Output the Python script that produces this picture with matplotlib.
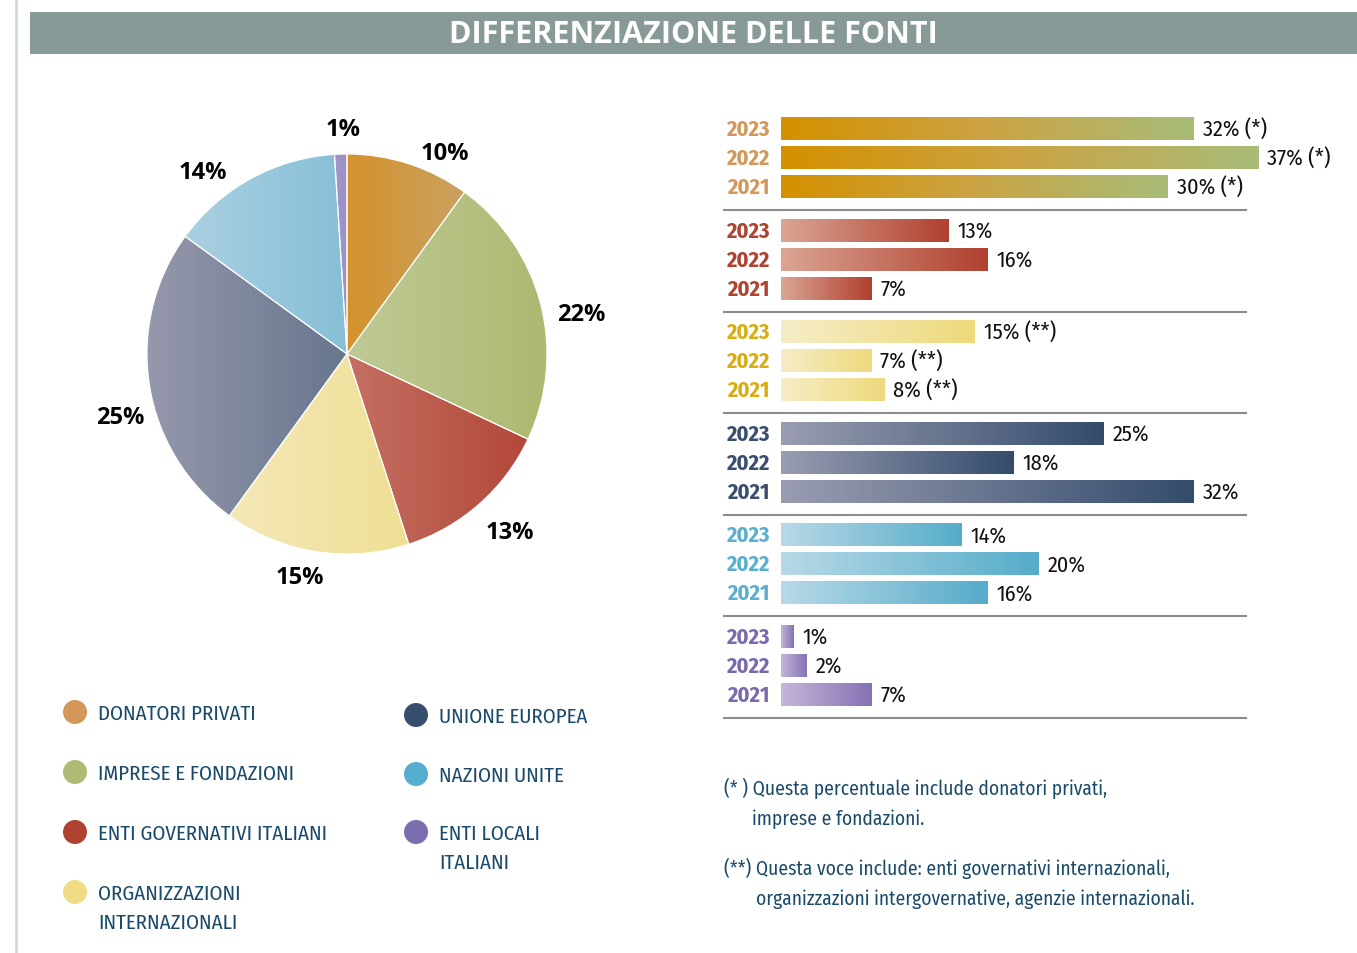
import numpy as np
import matplotlib
matplotlib.use("Agg")
import matplotlib.pyplot as plt
from matplotlib.colors import LinearSegmentedColormap
from matplotlib.patches import Rectangle, Circle

W, H = 1357, 954
COND = ["Fira Sans Condensed", "PT Sans Narrow", "Asap Condensed", "DejaVu Sans"]
BOLD = ["Open Sans", "DejaVu Sans"]
INK = "#1a4a6b"

# ---- data ----
categories = ["DONATORI PRIVATI", "IMPRESE E FONDAZIONI", "ENTI GOVERNATIVI ITALIANI",
              "ORGANIZZAZIONI\nINTERNAZIONALI", "UNIONE EUROPEA", "NAZIONI UNITE",
              "ENTI LOCALI\nITALIANI"]
shares_2023 = [10, 22, 13, 15, 25, 14, 1]

years = ["2023", "2022", "2021"]
private_vals = [32, 37, 30]      # donatori privati + imprese e fondazioni (*)
gov_it_vals = [13, 16, 7]
intl_org_vals = [15, 7, 8]       # (**)
eu_vals = [25, 18, 32]
un_vals = [14, 20, 16]
local_vals = [1, 2, 7]
group_vals = [private_vals, gov_it_vals, intl_org_vals, eu_vals, un_vals, local_vals]
group_notes = [" (*)", "", " (**)", "", "", ""]

# ---- colours ----
legend_colors = ["#d4975a", "#adbb75", "#b04232", "#efdc85", "#374e6e", "#55add0", "#7b6db0"]
pie_grad = [("#d4922b", "#c9a262"), ("#bfca96", "#adb970"), ("#c37062", "#b3483a"),
            ("#f4e8b8", "#efdf94"), ("#9698ab", "#67768e"), ("#aad0e1", "#86bfd7"),
            ("#a197c9", "#9c90c5")]
bar_grad = [["#d49000", "#cba444", "#a8bc78"], ["#dba594", "#b0402f"],
            ["#f6edc8", "#eed97c"], ["#9a9db2", "#344c6c"],
            ["#b8d9e7", "#55acca"], ["#c4b7d8", "#8472b4"]]
year_colors = ["#d4975a", "#b04232", "#d9ad12", "#3a4f6e", "#5aafd0", "#7a6aad"]
# label nudges (pixels, x right / y down) to sit the pie labels like the original
label_nudge = [(27, 18), (11, 17), (11, 5), (-11, -4), (0, 27), (-33, 20), (3, 5)]

grad = np.linspace(0, 1, 256).reshape(1, -1)

fig = plt.figure(figsize=(W / 100, H / 100), dpi=100)

# overlay in pixel coordinates for banner, legend and notes
ov = fig.add_axes([0, 0, 1, 1])
ov.set_xlim(0, W)
ov.set_ylim(H, 0)
ov.axis("off")
ov.plot([16, 16], [0, H], color="#d6d6d6", lw=2)
ov.add_patch(Rectangle((30, 13), W - 30, 42, color="#879a97", lw=0))
ov.text(693, 35, "DIFFERENZIAZIONE DELLE FONTI", color="white", fontsize=22,
        fontweight="bold", family=BOLD, ha="center", va="center")

# legend
leg_pos = [(75, 713), (75, 773), (75, 833), (75, 893), (416, 716), (416, 775), (416, 833)]
for (x, y), lab, c in zip(leg_pos, categories, legend_colors):
    ov.add_patch(Circle((x, y), 12, color=c, lw=0))
    ov.text(x + 23, y - 8, lab, color=INK, fontsize=15, family=COND,
            ha="left", va="top", linespacing=1.55)

# footnotes
ov.text(724, 788, "(* ) Questa percentuale include donatori privati,", color=INK,
        fontsize=14, family=COND, va="center")
ov.text(752, 819, "imprese e fondazioni.", color=INK, fontsize=14, family=COND, va="center")
ov.text(724, 868, "(**) Questa voce include: enti governativi internazionali,", color=INK,
        fontsize=14, family=COND, va="center")
ov.text(756, 899, "organizzazioni intergovernative, agenzie internazionali.", color=INK,
        fontsize=14, family=COND, va="center")

# ---- pie ----
ax = fig.add_axes([(347 - 250) / W, (H - 355 - 250) / H, 500 / W, 500 / H])
wedges, texts = ax.pie(shares_2023, labels=[f"{v}%" for v in shares_2023],
                       startangle=90, counterclock=False, labeldistance=1.15,
                       wedgeprops=dict(edgecolor="white", linewidth=0.8))
for w, (c0, c1) in zip(wedges, pie_grad):
    bb = w.get_path().get_extents()
    cmap = LinearSegmentedColormap.from_list("g", [c0, c1])
    im = ax.imshow(grad, cmap=cmap, aspect="auto", interpolation="bicubic",
                   extent=[bb.x0, bb.x1, bb.y0, bb.y1], zorder=0)
    im.set_clip_path(w)
    w.set_facecolor("none")
    w.set_zorder(2)
for t, (dx, dy) in zip(texts, label_nudge):
    x, y = t.get_position()
    t.set_position((x + dx / 200, y - dy / 200))
    t.set_ha("center")
    t.set_va("center")
    t.set_fontsize(17)
    t.set_fontweight("bold")
    t.set_family(BOLD)
ax.set_xlim(-1.25, 1.25)
ax.set_ylim(-1.25, 1.25)
ax.set_aspect("equal")
ax.axis("off")

# ---- bars ----
PX = 12.9  # pixels per percentage point
axb = fig.add_axes([781 / W, (H - 740) / H, (W - 781) / W, 640 / H])
for g, vals in enumerate(group_vals):
    cmap = LinearSegmentedColormap.from_list("b%d" % g, bar_grad[g])
    for r, (yr, v) in enumerate(zip(years, vals)):
        y = g * 3.5 + r
        axb.imshow(grad, cmap=cmap, aspect="auto", interpolation="bicubic",
                   extent=[0, v, y + 0.39, y - 0.39])
        axb.text(-0.9, y, yr, color=year_colors[g], fontsize=16, fontweight="bold",
                 family=COND, ha="right", va="center")
        axb.text(v + 0.7, y, f"{v}%{group_notes[g]}", color="#111111", fontsize=16,
                 family=COND, ha="left", va="center")
    axb.plot([(724 - 781) / PX, (1246 - 781) / PX], [g * 3.5 + 2.8] * 2,
             color="#8c8c8c", lw=1.5, clip_on=False)
axb.set_xlim(0, (W - 781) / PX)
axb.set_ylim((740 - 130) / 29, (100 - 130) / 29)
axb.axis("off")

fig.savefig("out.png", dpi=100)
